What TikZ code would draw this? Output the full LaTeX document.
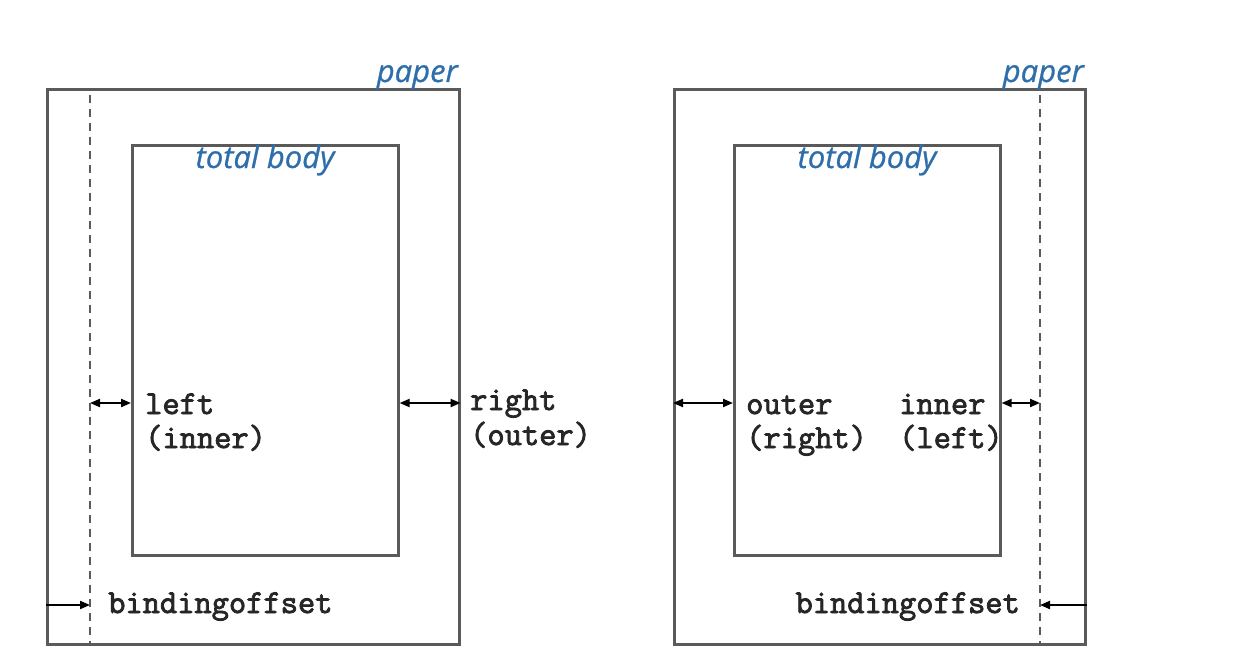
\documentclass[tikz,border=0pt]{standalone}
\usepackage{fontspec}
\newfontfamily\labelfont[FakeBold=0.8]{Open Sans}
\newfontfamily\monofont[FakeBold=2.5]{Latin Modern Mono}
\usetikzlibrary{arrows.meta}
\definecolor{lblue}{RGB}{46,110,170}
\definecolor{frame}{RGB}{90,90,90}
\begin{document}
\begin{tikzpicture}[x=1pt,y=-1pt,
  box/.style={draw=frame,line width=2.6pt,rectangle,inner sep=0pt,anchor=north west},
  bline/.style={draw=frame,line width=1.6pt,dash pattern=on 8pt off 6pt},
  dim/.style={line width=2pt,{Triangle[length=10pt,width=8pt]}-{Triangle[length=10pt,width=8pt]}},
  one/.style={line width=2pt,-{Triangle[length=10pt,width=8pt]}},
  tt/.style={inner sep=0pt,anchor=base west,text=black!85,font=\monofont\fontsize{33.5}{34}\selectfont},
  blue/.style={inner sep=0pt,text=lblue,font=\labelfont\itshape\fontsize{31}{32}\selectfont}]
\useasboundingbox (0,0) rectangle (1260,658);
% left page
\node[box,minimum width=412pt,minimum height=555pt] (paperL) at (46,88) {};
\node[box,minimum width=266pt,minimum height=410pt] (bodyL) at (131,144) {};
\coordinate (dLt) at (90,95);
\coordinate (dLb) at (90,643);
\draw[bline] (dLt) -- (dLb);
\node[blue,anchor=base east] (paperLl) at (458,82) {paper};
\node[blue,anchor=base] (bodyLl) at (265,168) {total body};
\coordinate (aL1) at (90,403);
\draw[dim] (aL1) -- (bodyL.west |- aL1);
\draw[dim] (bodyL.east |- aL1) -- (paperL.east |- aL1);
\node[tt] (leftA) at (145,414) {left};
\node[tt] (leftB) at (145,448) {(inner)};
\node[tt] (rightA) at (470,410) {right};
\node[tt] (rightB) at (470,445) {(outer)};
\coordinate (bL) at (90,605);
\draw[one] (paperL.west |- bL) -- (bL);
\node[tt] (boL) at (108,613) {bindingoffset};
% right page
\node[box,minimum width=411pt,minimum height=555pt] (paperR) at (673,88) {};
\node[box,minimum width=266pt,minimum height=410pt] (bodyR) at (733,144) {};
\coordinate (dRt) at (1040,95);
\coordinate (dRb) at (1040,643);
\draw[bline] (dRt) -- (dRb);
\node[blue,anchor=base east] (paperRl) at (1084,82) {paper};
\node[blue,anchor=base] (bodyRl) at (867,168) {total body};
\coordinate (aR1) at (1040,403);
\draw[dim] (paperR.west |- aR1) -- (bodyR.west |- aR1);
\draw[dim] (bodyR.east |- aR1) -- (aR1);
\node[tt] (outerA) at (746,414) {outer};
\node[tt] (outerB) at (746,448) {(right)};
\node[tt] (innerA) at (899,414) {inner};
\node[tt] (innerB) at (899,448) {(left)};
\coordinate (bR) at (1040,605);
\draw[one] (paperR.east |- bR) -- (bR);
\node[tt,anchor=base east] (boR) at (1020,613) {bindingoffset};
\end{tikzpicture}
\end{document}
